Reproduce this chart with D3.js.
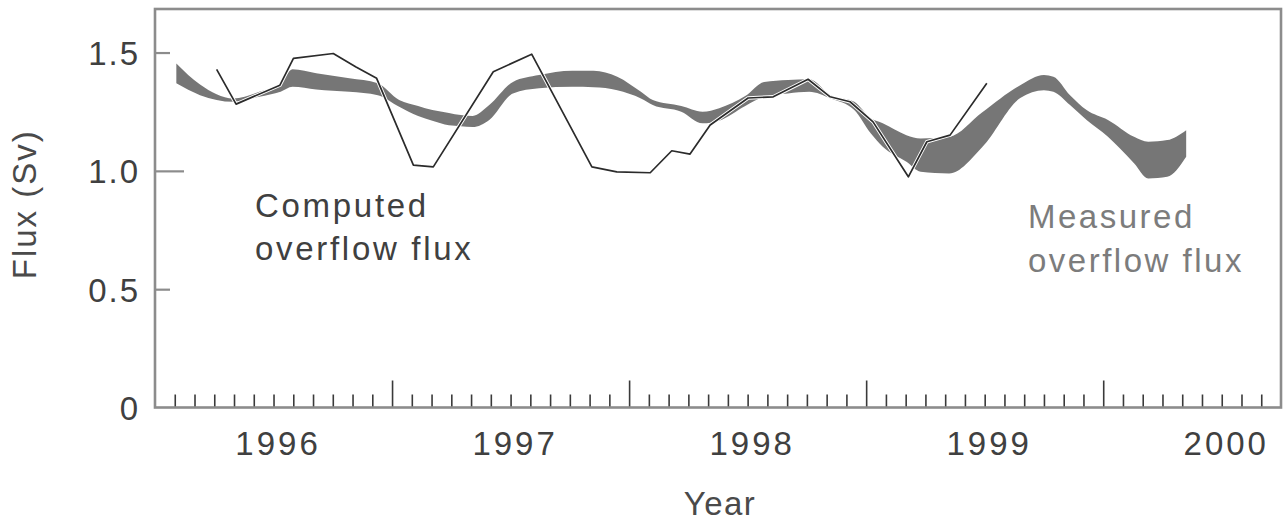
<!DOCTYPE html>
<html>
<head>
<meta charset="utf-8">
<script src="https://cdn.jsdelivr.net/npm/d3@7"></script>
<style>
  html, body { margin: 0; padding: 0; background: #fff; }
  svg { display: block; }
  text { font-family: "Liberation Sans", Arial, Helvetica, sans-serif; }
</style>
</head>
<body>
<svg id="chart" width="1285" height="528"></svg>
<script>
// Measured overflow flux: upper and lower edge of the uncertainty band (Sv)
const bandYears = [1995.59, 1995.69, 1995.83, 1995.94, 1996.03, 1996.08, 1996.18, 1996.32, 1996.44,
  1996.53, 1996.61, 1996.67, 1996.74, 1996.79, 1996.84, 1996.91, 1997.01, 1997.12, 1997.26,
  1997.35, 1997.45, 1997.55, 1997.60, 1997.72, 1997.81, 1997.88, 1997.99, 1998.07, 1998.17,
  1998.26, 1998.35, 1998.45, 1998.52, 1998.57, 1998.67, 1998.73, 1998.85, 1998.99, 1999.15,
  1999.25, 1999.29, 1999.36, 1999.43, 1999.52, 1999.63, 1999.69, 1999.77, 1999.85];
const bandHigh = [1.454, 1.365, 1.306, 1.334, 1.370, 1.429, 1.412, 1.391, 1.370,
  1.299, 1.274, 1.257, 1.245, 1.236, 1.232, 1.278, 1.376, 1.405, 1.423,
  1.423, 1.398, 1.334, 1.299, 1.274, 1.250, 1.265, 1.316, 1.376, 1.384,
  1.387, 1.320, 1.292, 1.222, 1.201, 1.151, 1.137, 1.144, 1.248, 1.362,
  1.405, 1.398, 1.320, 1.257, 1.215, 1.144, 1.123, 1.130, 1.172];
const bandLow = [1.370, 1.320, 1.292, 1.313, 1.334, 1.355, 1.344, 1.334, 1.320,
  1.271, 1.232, 1.212, 1.193, 1.189, 1.185, 1.215, 1.327, 1.349, 1.355,
  1.353, 1.341, 1.306, 1.278, 1.250, 1.201, 1.212, 1.274, 1.313, 1.327,
  1.334, 1.306, 1.257, 1.158, 1.102, 1.038, 0.996, 0.989, 1.101, 1.308,
  1.341, 1.334, 1.278, 1.215, 1.144, 1.032, 0.968, 0.975, 1.060];

// Computed overflow flux (Sv)
const computedYears = [1995.760, 1995.842, 1996.027, 1996.084, 1996.252, 1996.348, 1996.435,
  1996.590, 1996.674, 1996.927, 1997.089, 1997.343, 1997.448, 1997.589, 1997.680, 1997.757,
  1997.842, 1998.002, 1998.108, 1998.255, 1998.348, 1998.432, 1998.529, 1998.678, 1998.756,
  1998.854, 1999.009];
const computedFlux = [1.429, 1.282, 1.362, 1.475, 1.496, 1.439, 1.391,
  1.024, 1.017, 1.419, 1.493, 1.017, 0.996, 0.992, 1.085, 1.071,
  1.194, 1.308, 1.313, 1.387, 1.313, 1.292, 1.207, 0.975, 1.123,
  1.151, 1.370];

// Axis ticks
const yTickValues = [0, 0.5, 1.0, 1.5];
const yTickLabels = ["0", "0.5", "1.0", "1.5"];
const xYearLabels = [1996, 1997, 1998, 1999, 2000];
const xHalfYears = [1996.5, 1997.5, 1998.5, 1999.5];

const svg = d3.select("#chart");
const plotLeft = 155, plotRight = 1281, plotTop = 9, plotBottom = 407.5;

const x = d3.scaleLinear().domain([1995.5, 2000.25]).range([plotLeft, plotRight]);
const y = d3.scaleLinear().domain([0, 1.684]).range([plotBottom, plotTop]);

const frameColor = "#8c8c8c";
const tickColor = "#3a3a3a";
const textColor = "#404040";

// Measured band
const band = bandYears.map((t, i) => ({ t, hi: bandHigh[i], lo: bandLow[i] }));
svg.append("path")
  .datum(band)
  .attr("fill", "#767676")
  .attr("d", d3.area()
    .x(d => x(d.t))
    .y0(d => y(d.lo))
    .y1(d => y(d.hi))
    .curve(d3.curveMonotoneX));

// Computed line with a white casing so it reads over the band
const comp = computedYears.map((t, i) => ({ t, v: computedFlux[i] }));
const line = d3.line().x(d => x(d.t)).y(d => y(d.v));
svg.append("path").datum(comp)
  .attr("fill", "none").attr("stroke", "#fff").attr("stroke-width", 3.6)
  .attr("stroke-linejoin", "round").attr("d", line);
svg.append("path").datum(comp)
  .attr("fill", "none").attr("stroke", "#2b2b2b").attr("stroke-width", 1.7)
  .attr("stroke-linejoin", "round").attr("d", line);

// Monthly minor ticks along the bottom, pointing into the plot
const months = d3.range(1, 57).map(k => 1995.5 + k / 12)
  .filter(t => !xHalfYears.some(h => Math.abs(h - t) < 1e-6));
const xMinor = svg.append("g").attr("transform", `translate(0,${plotBottom})`)
  .call(d3.axisBottom(x).tickValues(months).tickSize(-13).tickFormat(""));
const xMajor = svg.append("g").attr("transform", `translate(0,${plotBottom})`)
  .call(d3.axisBottom(x).tickValues(xHalfYears).tickSize(-27).tickFormat(""));
[xMinor, xMajor].forEach(g => {
  g.select(".domain").remove();
  g.selectAll("line").attr("stroke", tickColor).attr("stroke-width", 1.6);
});

// Year labels
const xLab = svg.append("g").attr("transform", `translate(0,${plotBottom})`)
  .call(d3.axisBottom(x).tickValues(xYearLabels).tickSize(0).tickPadding(0).tickFormat(d3.format("d")));
xLab.select(".domain").remove();
xLab.selectAll("text")
  .attr("y", 47).attr("dy", null)
  .attr("fill", textColor)
  .style("font-size", "33px").style("letter-spacing", "3px")
  .attr("dx", "4px");

// Y axis ticks and labels
const yAx = svg.append("g").attr("transform", `translate(${plotLeft},0)`)
  .call(d3.axisRight(y).tickValues(yTickValues).tickSize(15)
    .tickFormat((d, i) => yTickLabels[i]));
yAx.select(".domain").remove();
yAx.selectAll("line")
  .attr("stroke", frameColor).attr("stroke-width", 2.2)
  .attr("x2", d => d === 1.0 ? 29 : 15);
yAx.selectAll("text")
  .attr("x", -15).attr("text-anchor", "end").attr("dy", "0.36em")
  .attr("fill", textColor)
  .style("font-size", "33px").style("letter-spacing", "2px");
yAx.selectAll(".tick").filter(d => d === 0).select("line").remove();

// Frame
svg.append("rect")
  .attr("x", plotLeft).attr("y", plotTop)
  .attr("width", plotRight - plotLeft).attr("height", plotBottom - plotTop)
  .attr("fill", "none").attr("stroke", frameColor).attr("stroke-width", 2.6);

// Axis titles
svg.append("text")
  .attr("x", (plotLeft + plotRight) / 2 + 2).attr("y", 515)
  .attr("text-anchor", "middle").attr("fill", "#4a4a4a")
  .style("font-size", "33px").style("letter-spacing", "1.5px")
  .text("Year");
svg.append("text")
  .attr("transform", `translate(36,${(plotTop + plotBottom) / 2 - 4}) rotate(-90)`)
  .attr("text-anchor", "middle").attr("fill", "#4a4a4a")
  .style("font-size", "33px").style("letter-spacing", "2px")
  .text("Flux (Sv)");

// Series annotations
const note1 = svg.append("text").attr("fill", textColor)
  .style("font-size", "33px").style("letter-spacing", "2.7px");
note1.append("tspan").attr("x", 255).attr("y", 217).text("Computed");
note1.append("tspan").attr("x", 255).attr("y", 260).text("overflow flux");

const note2 = svg.append("text").attr("fill", "#7c7c7c")
  .style("font-size", "33px").style("letter-spacing", "2.5px");
note2.append("tspan").attr("x", 1028).attr("y", 228).text("Measured");
note2.append("tspan").attr("x", 1028).attr("y", 272).text("overflow flux");
</script>
</body>
</html>
